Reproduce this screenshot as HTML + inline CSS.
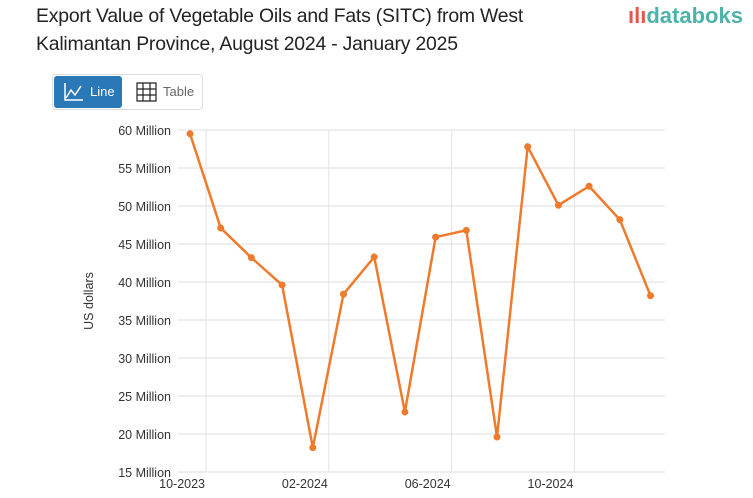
<!DOCTYPE html>
<html><head><meta charset="utf-8"><style>
body{margin:0;width:753px;height:498px;background:#fff;font-family:"Liberation Sans",sans-serif;overflow:hidden;position:relative}
.title{position:absolute;left:36px;top:2px;font-size:19.4px;line-height:28px;color:#222;letter-spacing:-0.2px}
.logo{position:absolute;left:628px;top:3px;font-size:22px;color:#4db3a8;font-weight:bold}
.tabs{position:absolute;left:52px;top:74px;width:149px;height:34px;border:1px solid #ddd;border-radius:4px}
.tab{position:absolute;top:1px;height:32px;font-size:13px;line-height:32px}
</style></head><body>
<div class="title">Export Value of Vegetable Oils and Fats (SITC) from West<br>Kalimantan Province, August 2024 - January 2025</div>
<div class="logo"><span style="color:#e8584a">ılı</span>databoks</div>
<div class="tabs">
<div class="tab" style="left:1px;width:68px;background:#2a78b8;color:#fff;border-radius:3px"><svg width="22" height="20" style="position:absolute;left:9px;top:6px"><path d="M2 1V18H20M3 16L8 8L12 13L18 4" stroke="#fff" fill="none" stroke-width="1.5"/></svg><span style="position:absolute;left:36px">Line</span></div>
<div class="tab" style="left:80px;width:68px;color:#666"><svg width="22" height="20" style="position:absolute;left:3px;top:6px"><path d="M1 1H20V19H1ZM1 7H20M1 13H20M7 1V19M14 1V19" stroke="#222" fill="none" stroke-width="1.2"/></svg><span style="position:absolute;left:30px">Table</span></div>
</div>
<svg id="c" width="753" height="498" style="position:absolute;left:0;top:0"></svg>
<script>
const values=[59.5,47.1,43.2,39.6,18.2,38.4,43.3,22.9,45.9,46.8,19.6,57.8,50.1,52.6,48.2,38.2];
const yTicks=[15,20,25,30,35,40,45,50,55,60];
const xLabels=["10-2023","02-2024","06-2024","10-2024"];
const ns="http://www.w3.org/2000/svg",svg=document.getElementById('c');
const L=178,R=665;
const y=v=>130+(60-v)*7.6, x=i=>190+30.7*i, gx=k=>206+122.8*k;
function el(t,a,txt){const e=document.createElementNS(ns,t);for(const k in a)e.setAttribute(k,a[k]);if(txt)e.textContent=txt;svg.appendChild(e);return e;}
yTicks.forEach(v=>{
const g=el('line',{x1:L,x2:R,y1:y(v),y2:y(v),stroke:'#ddd'});


const t=el('text',{x:171,y:y(v)+5,'text-anchor':'end','font-size':12.5,fill:'#333'},v+' Million');


});
xLabels.forEach((s,k)=>{
const g=el('line',{x1:gx(k),x2:gx(k),y1:130,y2:472,stroke:'#e3e3e3'});


const t=el('text',{x:gx(k)-1,y:488,'text-anchor':'end','font-size':12.5,fill:'#333'},s);


});
const yt=el('text',{x:93,y:301,'text-anchor':'middle','font-size':12.5,fill:'#333',transform:'rotate(-90 93 301)'},'US dollars');


const p=el('polyline',{points:values.map((v,i)=>x(i)+','+y(v)).join(' '),fill:'none',stroke:'#f07a2c','stroke-width':2.5});


values.forEach((v,i)=>{
const c=el('circle',{cx:x(i),cy:y(v),r:3.5,fill:'#f07a2c'});


});
</script>
</body></html>
